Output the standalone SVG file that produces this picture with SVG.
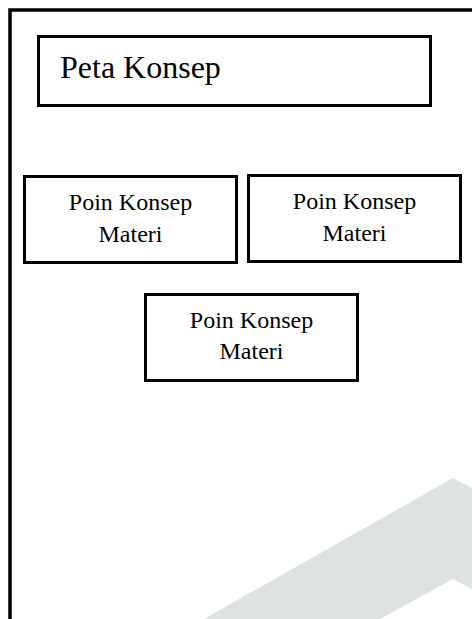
<svg xmlns="http://www.w3.org/2000/svg" width="472" height="619" viewBox="0 0 472 619">
  <style>
    .box { fill: #ffffff; stroke: #000000; stroke-width: 3; }
    .frame { fill: none; stroke: #000000; stroke-width: 3.5; }
    text { font-family: 'Times New Roman', 'Liberation Serif', Tinos, 'DejaVu Serif', serif; fill: #000000; }
    .title { font-size: 32px; }
    .label { font-size: 24px; text-anchor: middle; }
  </style>
  <rect width="472" height="619" fill="#ffffff"/>

  <!-- light grey chevron in the lower right corner -->
  <polygon points="453,478 472,488 472,589 453,579 380,619 204,619" fill="#dde3e1"/>

  <!-- page frame: top and left edges -->
  <path class="frame" d="M10,619 V10 H472"/>

  <g id="title">
    <rect class="box" x="38.5" y="36.5" width="392" height="69"/>
    <text class="title" x="60" y="78">Peta Konsep</text>
  </g>

  <g id="poin-1">
    <rect class="box" x="24.5" y="176.5" width="212" height="86"/>
    <text class="label" x="130.5" y="210">Poin Konsep</text>
    <text class="label" x="130.5" y="242">Materi</text>
  </g>

  <g id="poin-2">
    <rect class="box" x="248.5" y="175.5" width="212" height="86"/>
    <text class="label" x="354.5" y="209">Poin Konsep</text>
    <text class="label" x="354.5" y="241">Materi</text>
  </g>

  <g id="poin-3">
    <rect class="box" x="145.5" y="294.5" width="212" height="86"/>
    <text class="label" x="251.5" y="328">Poin Konsep</text>
    <text class="label" x="251.5" y="359">Materi</text>
  </g>

  <g id="connectors"/>
</svg>
